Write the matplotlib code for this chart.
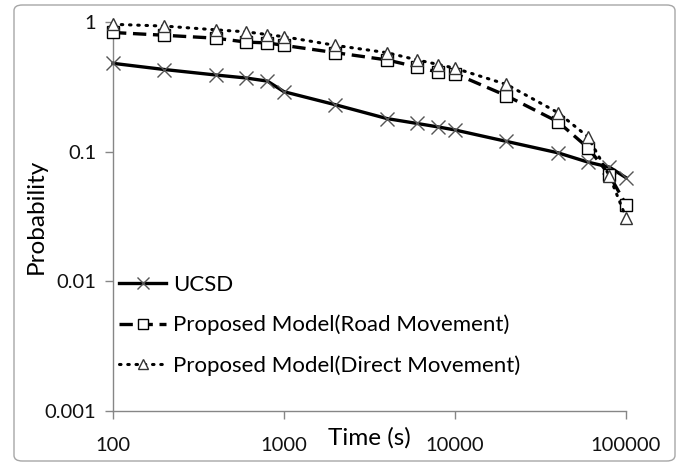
import matplotlib
matplotlib.use("Agg")
import matplotlib.pyplot as plt
from matplotlib.patches import FancyBboxPatch

plt.rcParams['font.family'] = ['Lato', 'DejaVu Sans']

times = [100, 200, 400, 600, 800, 1000, 2000, 4000, 6000, 8000,
         10000, 20000, 40000, 60000, 80000, 100000]
ucsd = [0.48, 0.43, 0.39, 0.37, 0.35, 0.29, 0.23, 0.18, 0.165, 0.155,
        0.147, 0.12, 0.098, 0.083, 0.076, 0.063]
road = [0.83, 0.79, 0.75, 0.70, 0.69, 0.66, 0.58, 0.51, 0.45, 0.41,
        0.40, 0.27, 0.17, 0.107, 0.066, 0.039]
direct = [0.96, 0.93, 0.87, 0.84, 0.80, 0.77, 0.66, 0.58, 0.51, 0.47,
          0.44, 0.33, 0.20, 0.13, 0.065, 0.031]

series_names = ["UCSD", "Proposed Model(Road Movement)", "Proposed Model(Direct Movement)"]
x_ticks = [100, 1000, 10000, 100000]
y_ticks = [0.001, 0.01, 0.1, 1]
y_ticklabels = ["0.001", "0.01", "0.1", "1"]

fig = plt.figure(figsize=(6.93, 4.66), dpi=100)
ax = fig.add_axes([113/693, 1-411/466, (626-113)/693, (411-22)/466])

grey = '#868686'
ax.plot(times, ucsd, color='black', lw=2.4, marker='x', ms=10.5, mec='#555555', mew=1.0,
        label=series_names[0], zorder=3, clip_on=False)
ax.plot(times, road, color='black', lw=2.4, ls=(0, (4, 2)), marker='s', ms=9, mfc='white',
        mec='black', mew=1.0, label=series_names[1], zorder=4, clip_on=False)
ax.plot(times, direct, color='black', lw=2.2, ls=(0, (0.5, 2.2)), dash_capstyle='round',
        marker='^', ms=9, mfc='white', mec='#333333', mew=1.0, label=series_names[2],
        zorder=5, clip_on=False)

ax.set_xscale('log')
ax.set_yscale('log')
ax.set_xlim(100, 100000)
ax.set_ylim(0.001, 1)
ax.set_xticks(x_ticks)
ax.set_xticklabels([str(t) for t in x_ticks])
ax.set_yticks(y_ticks)
ax.set_yticklabels(y_ticklabels)
ax.minorticks_off()
for s in ['top', 'right']:
    ax.spines[s].set_visible(False)
for s in ['left', 'bottom']:
    ax.spines[s].set_color(grey)
    ax.spines[s].set_linewidth(1.0)
ax.tick_params(axis='both', colors=grey, length=6, width=1.0, labelsize=14.5,
               labelcolor='#111111', pad=6)
ax.tick_params(axis='x', pad=13)

ax.set_ylabel('Probability', fontsize=17.5)
ax.yaxis.set_label_coords(-0.13, 0.5)
ax.set_xlabel('Time (s)', fontsize=17.5)
ax.xaxis.set_label_coords(0.5, -0.042)

leg = ax.legend(loc='center left', bbox_to_anchor=(-0.005, 0.22), frameon=False, fontsize=16,
                handlelength=2.1, handletextpad=0.3, labelspacing=0.9, borderaxespad=0,
                markerscale=0.85)

fig.patches.append(FancyBboxPatch((14/693, 1-461/466), (675-14)/693, (461-5)/466,
                                  boxstyle='round,pad=0,rounding_size=0.012',
                                  transform=fig.transFigure, fill=False,
                                  edgecolor='#a6a6a6', lw=1.0))

fig.savefig('out.png', dpi=100)
